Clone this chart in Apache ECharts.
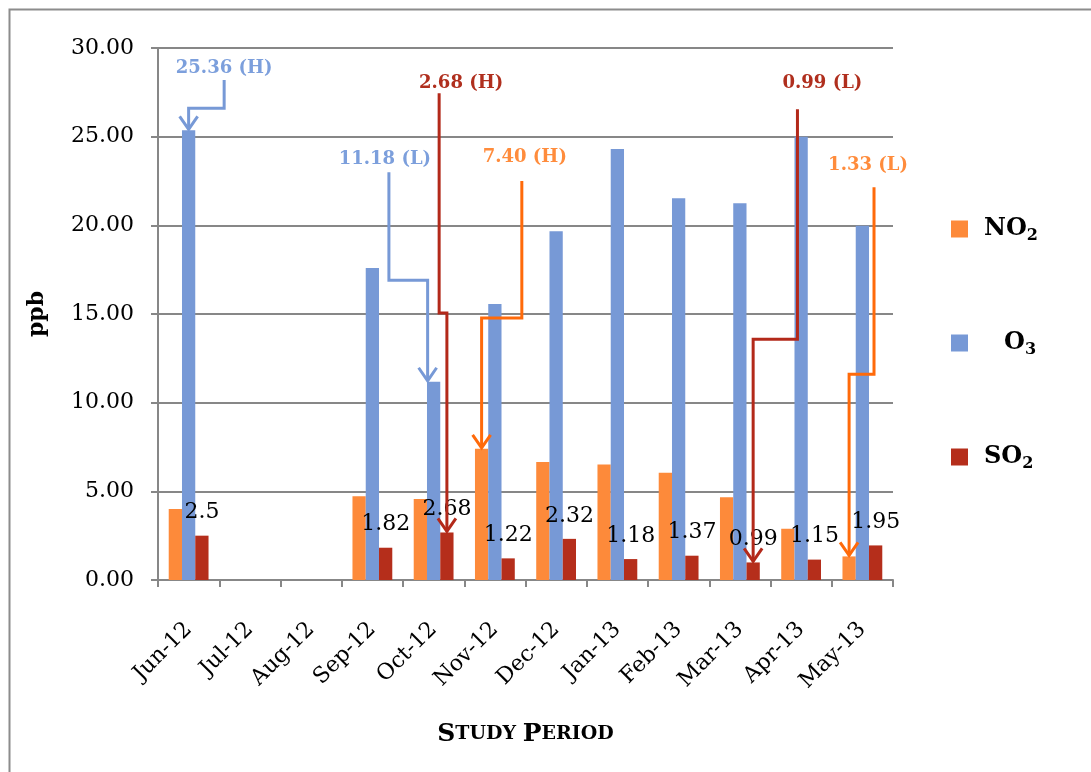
<!DOCTYPE html>
<html>
<head>
<meta charset="utf-8">
<script src="https://cdn.jsdelivr.net/npm/echarts@6/dist/echarts.min.js"></script>
<style>
  html, body { margin: 0; padding: 0; background: #fff; }
  .main { width: 1091px; height: 772px; }
</style>
</head>
<body>
<div class="main"></div>
<script>
// months of the study period
var months = ['Jun-12', 'Jul-12', 'Aug-12', 'Sep-12', 'Oct-12', 'Nov-12', 'Dec-12', 'Jan-13', 'Feb-13', 'Mar-13', 'Apr-13', 'May-13'];
// ppb (no data for Jul/Aug)
var no2 = [4.0, null, null, 4.72, 4.57, 7.40, 6.65, 6.52, 6.05, 4.66, 2.89, 1.33];
var o3 = [25.36, null, null, 17.59, 11.18, 15.56, 19.67, 24.30, 21.53, 21.25, 25.0, 19.97];
var so2 = [2.5, null, null, 1.82, 2.68, 1.22, 2.32, 1.18, 1.37, 0.99, 1.15, 1.95];
var yTicks = [0, 5, 10, 15, 20, 25, 30];

// high / low callouts
var callouts = [
  { text: '25.36 (H)', series: 1, month: 'Jun-12' },
  { text: '11.18 (L)', series: 1, month: 'Oct-12' },
  { text: '2.68 (H)', series: 2, month: 'Oct-12' },
  { text: '7.40 (H)', series: 0, month: 'Nov-12' },
  { text: '0.99 (L)', series: 2, month: 'Mar-13' },
  { text: '1.33 (L)', series: 0, month: 'May-13' }
];

// where the callout lines run (stem x as fraction of band, y in axis units)
var calloutLayout = [
  { stemX: 0.58, top: 28.2, elbow: 26.6, textY: 28.85, textDx: 0, tipDx: 0 },
  { stemX: -0.73, top: 23.0, elbow: 16.9, textY: 23.7, textDx: -4, tipDx: -6 },
  { stemX: 0.09, top: 27.45, elbow: 15.05, textY: 28.0, textDx: 22, tipDx: 0 },
  { stemX: 0.44, top: 22.5, elbow: 14.77, textY: 23.85, textDx: 3, tipDx: 0 },
  { stemX: 0.94, top: 26.55, elbow: 13.58, textY: 28.0, textDx: 25, tipDx: 0 },
  { stemX: 0.19, top: 22.15, elbow: 11.6, textY: 23.4, textDx: -6, tipDx: 0 }
];

var serif = '"DejaVu Serif", "Liberation Serif", serif';
var barColors = ['#fd8a3a', '#7799d6', '#b52e1b'];
var lineColors = ['#ff6a0a', '#7799d6', '#b3291a'];
var textColors = ['#ff8c3c', '#7c9fdc', '#b02f1e'];
var allSeries = [no2, o3, so2];
var catGap = 0.35;

var myChart = echarts.init(document.querySelector('.main'));

function renderCallout(params, api) {
  var i = params.dataIndex;
  var c = callouts[i];
  var lay = calloutLayout[i];
  var idx = months.indexOf(c.month);
  var val = allSeries[c.series][idx];
  var band = api.size([1, 0])[0];
  var barW = band * (1 - catGap) / 3;
  var center = api.coord([idx, val]);
  var tipX = center[0] + (c.series - 1) * barW + lay.tipDx;
  var tipY = center[1] - 1;
  var stemX = center[0] + lay.stemX * band;
  var topY = api.coord([idx, lay.top])[1];
  var elbowY = api.coord([idx, lay.elbow])[1];
  var textY = api.coord([idx, lay.textY])[1];
  var col = lineColors[c.series];
  return {
    type: 'group',
    children: [
      {
        type: 'polyline',
        shape: { points: [[stemX, topY], [stemX, elbowY], [tipX, elbowY], [tipX, tipY]] },
        style: { stroke: col, lineWidth: 3, fill: null }
      },
      {
        type: 'polyline',
        shape: { points: [[tipX - 9, tipY - 13], [tipX, tipY], [tipX + 9, tipY - 13]] },
        style: { stroke: col, lineWidth: 3, fill: null }
      },
      {
        type: 'text',
        style: {
          text: c.text, x: stemX + lay.textDx, y: textY,
          fill: textColors[c.series], font: 'bold 18px ' + serif,
          align: 'center', verticalAlign: 'middle'
        }
      }
    ]
  };
}

var legendRich = {
  b: { fontFamily: serif, fontWeight: 'bold', fontSize: 24, color: '#000', lineHeight: 30, padding: [0, 0, 0, 11] },
  bo: { fontFamily: serif, fontWeight: 'bold', fontSize: 24, color: '#000', lineHeight: 30, padding: [0, 0, 0, 31] },
  s: { fontFamily: serif, fontWeight: 'bold', fontSize: 16, color: '#000', lineHeight: 8, verticalAlign: 'bottom' }
};

myChart.setOption({
  animation: false,
  textStyle: { fontFamily: serif },
  graphic: [{
    type: 'rect', left: 7, top: 7, silent: true,
    shape: { width: 1100, height: 800 },
    style: { fill: null, stroke: '#8c8c8c', lineWidth: 2 }
  }],
  grid: { left: 158, right: 198, top: 48, bottom: 192 },
  legend: {
    data: ['NO2', 'O3', 'SO2'],
    orient: 'vertical',
    left: 946,
    top: 212,
    itemWidth: 17,
    itemHeight: 17,
    itemGap: 87,
    icon: 'rect',
    formatter: function (name) {
      if (name === 'NO2') return '{b|NO}{s|2}';
      if (name === 'O3') return '{bo|O}{s|3}';
      return '{b|SO}{s|2}';
    },
    textStyle: { rich: legendRich }
  },
  xAxis: {
    type: 'category',
    data: months,
    name: '{big|S}{sm|TUDY }{big|P}{sm|ERIOD}',
    nameLocation: 'middle',
    nameGap: 142,
    nameTextStyle: {
      rich: {
        big: { fontFamily: serif, fontWeight: 'bold', fontSize: 25, color: '#000' },
        sm: { fontFamily: serif, fontWeight: 'bold', fontSize: 19, color: '#000' }
      }
    },
    axisLine: { lineStyle: { color: '#878787', width: 2 } },
    axisTick: { show: true, length: 7, lineStyle: { color: '#878787', width: 2 } },
    axisLabel: { rotate: 45, margin: 46, fontSize: 22, color: '#000', fontFamily: serif, interval: 0 }
  },
  yAxis: {
    type: 'value',
    min: 0,
    max: 30,
    interval: 5,
    name: 'ppb',
    nameLocation: 'middle',
    nameGap: 110,
    nameRotate: 90,
    nameTextStyle: { fontFamily: serif, fontWeight: 'bold', fontSize: 22, color: '#000' },
    axisLine: { show: true, lineStyle: { color: '#878787', width: 2 } },
    axisTick: { show: true, length: 7, lineStyle: { color: '#878787', width: 2 } },
    splitLine: { lineStyle: { color: '#878787', width: 2 } },
    axisLabel: {
      margin: 24, fontSize: 22, color: '#000', fontFamily: serif,
      formatter: function (v) { return yTicks.indexOf(v) >= 0 ? v.toFixed(2) : ''; }
    }
  },
  series: [
    {
      name: 'NO2', type: 'bar', data: no2, barGap: 0, barCategoryGap: '35%',
      itemStyle: { color: barColors[0] }
    },
    {
      name: 'O3', type: 'bar', data: o3, barGap: 0, barCategoryGap: '35%',
      itemStyle: { color: barColors[1] }
    },
    {
      name: 'SO2', type: 'bar', data: so2, barGap: 0, barCategoryGap: '35%',
      itemStyle: { color: barColors[2] },
      label: { show: true, position: 'top', distance: 12, fontSize: 22, color: '#000', fontFamily: serif }
    },
    {
      name: 'callouts', type: 'custom', z: 5,
      data: callouts.map(function (c) { return [months.indexOf(c.month), allSeries[c.series][months.indexOf(c.month)]]; }),
      renderItem: renderCallout
    }
  ]
});
</script>
</body>
</html>
